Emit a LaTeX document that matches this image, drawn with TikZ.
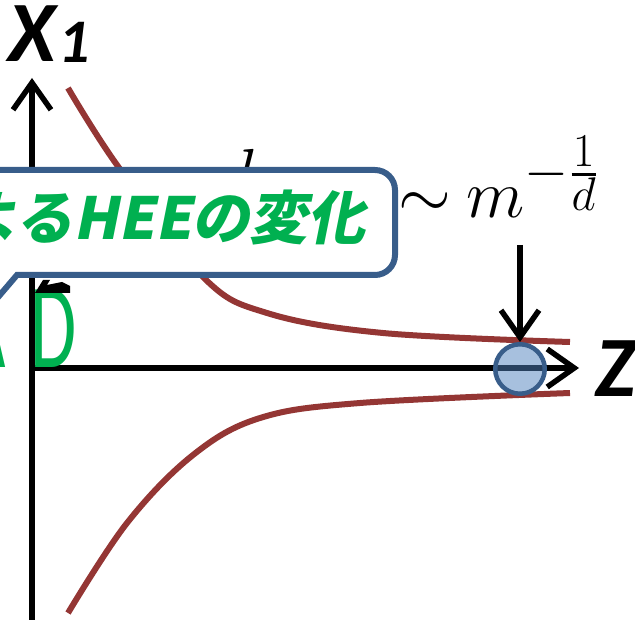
\documentclass[tikz,border=0pt]{standalone}
\usepackage{fontspec}
\usepackage{amsmath}
\setmainfont{Carlito}
\newfontfamily\jpfont[FakeSlant=0.2]{Noto Sans CJK JP}
\usetikzlibrary{arrows.meta}
\definecolor{curvered}{HTML}{943634}
\definecolor{boxblue}{HTML}{385D8A}
\definecolor{dotblue}{HTML}{4F81BD}
\definecolor{labelgreen}{HTML}{00B050}
\newcommand{\bigmath}[1]{\scalebox{2.73}{\fontsize{24.88}{24.88}\selectfont$#1$}}

\begin{document}
\begin{tikzpicture}[x=1pt,y=-1pt,
 axis/.style={line width=5.5pt,-{Straight Barb[length=27pt,width=38pt]}},
 curve/.style={draw=curvered,line width=6pt},
 axlabel/.style={font=\fontsize{86}{86}\selectfont\bfseries\itshape,inner sep=0pt}]
\useasboundingbox (0,0) rectangle (635,620);
\clip (0,0) rectangle (635,620);
% axes
\coordinate (origin) at (32,368);
\coordinate (ytop) at (32,78);
\coordinate (ybot) at (32,630);
\coordinate (zend) at (579,368);
\draw[axis] (ybot) -- (ytop);
\draw[axis] (origin) -- (zend);
\node[axlabel,anchor=base west] (xlabel) at (8,62) {X\hspace{3pt}\raisebox{-1pt}{\fontsize{62}{62}\selectfont 1}};
\node[axlabel,anchor=base west] (zlabel) at (595,397) {Z};
% the two curves
\draw[curve] plot[smooth,tension=0.6] coordinates {(68,88) (117,165) (203,277) (267,313) (383,333) (570,342)};
\draw[curve] plot[smooth,tension=0.6] coordinates {(68,613) (127,523) (193,455) (260,418) (360,403) (570,393)};
% scaling law
\node[anchor=base west,inner sep=0pt] (lsym) at (236,197) {\bigmath{l}};
\node[anchor=base west,inner sep=0pt] (law) at (398,218) {\bigmath{\sim\mkern-1mu m^{-\frac{1}{d}}}};
% callout
\draw[boxblue,line width=6pt,fill=white] (-80,170) [rounded corners=20pt] -- (395,170) -- (395,275) [sharp corners] -- (17,275) -- (-30,330) -- (-80,330) -- cycle;
\node[anchor=base east,inner sep=0pt,text=labelgreen,font=\fontsize{58}{58}\selectfont\jpfont\bfseries] (msg) at (366,240) {によるHEEの変化};
% marker on the z axis
\coordinate (arrtop) at (520,245);
\node[circle,draw=boxblue,line width=4.5pt,fill=dotblue,fill opacity=0.5,draw opacity=1,minimum size=49.5pt,inner sep=0pt] (dot) at (520,369) {};
\draw[axis] (arrtop) -- (dot.north);
% partly hidden label
\node[anchor=base east,inner sep=0pt,text=labelgreen,font=\fontsize{121}{121}\selectfont] (ad) at (77,368) {\scalebox{0.62}[1]{A\hspace{40pt}D}};
\fill (35,293) -- (43,280) -- (50,280) -- (47,285) -- (62,282) -- (70,286) -- (70,293) -- cycle;
\end{tikzpicture}
\end{document}
